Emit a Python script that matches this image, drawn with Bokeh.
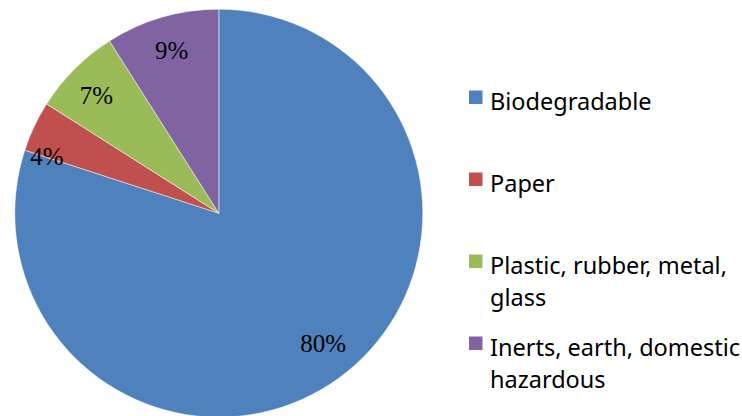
import math
from bokeh.plotting import figure
from bokeh.models import ColumnDataSource
from bokeh.core.properties import value
from bokeh.embed import file_html
from bokeh.resources import INLINE

# ---- data ----
categories = ["Biodegradable", "Paper", "Plastic, rubber, metal, glass", "Inerts, earth, domestic hazardous"]
shares = [80, 4, 7, 9]
pct_labels = ["80%", "4%", "7%", "9%"]
legend_lines = [["Biodegradable"], ["Paper"], ["Plastic, rubber, metal,", "glass"], ["Inerts, earth, domestic", "hazardous"]]
colors = ["#4F81BD", "#C0504D", "#9BBB59", "#8064A2"]

# ---- layout / style ----
W, H = 742, 416
CX, CY = 218.3, H - 212.7
R = 204
LABEL_R = 169
label_dx = [5, -19, -3, 0]
label_dy = [-6, 15, 2, 0]

p = figure(width=W, height=H, x_range=(0, W), y_range=(0, H),
           output_backend="svg", toolbar_location=None, min_border=0)
p.axis.visible = False
p.grid.visible = False
p.outline_line_color = None
p.background_fill_color = "white"
p.border_fill_color = "white"

total = float(sum(shares))
starts, ends, lx, ly = [], [], [], []
a = math.pi / 2
for s in shares:
    sweep = 2 * math.pi * s / total
    end = a - sweep
    starts.append(end)
    ends.append(a)
    mid = (a + end) / 2
    lx.append(CX + LABEL_R * math.cos(mid))
    ly.append(CY + LABEL_R * math.sin(mid))
    a = end

src = ColumnDataSource(dict(start=starts, end=ends, color=colors, cat=categories,
                            lx=lx, ly=ly, lab=pct_labels, dx=label_dx, dy=label_dy))
p.wedge(x=CX, y=CY, radius=R, start_angle="start", end_angle="end",
        fill_color="color", line_color="white", line_width=0.7, line_alpha=0.7, source=src)

p.text(x="lx", y="ly", text="lab", x_offset="dx", y_offset="dy", source=src,
       text_font=value("Liberation Serif"), text_font_size="25px",
       text_align="center", text_baseline="middle", text_color="black")

# legend
LEG_X_SQ = 468.5
SQ = 13.5
LEG_X_TXT = 489.5
first_baseline = H - 106.5
item_step = 82
line_step = 32
sq_x, sq_y, tx, ty, tt = [], [], [], [], []
for i, lines in enumerate(legend_lines):
    base = first_baseline - i * item_step
    sq_x.append(LEG_X_SQ + SQ / 2)
    sq_y.append(base + SQ / 2 + 3)
    for j, t in enumerate(lines):
        tx.append(LEG_X_TXT)
        ty.append(base - j * line_step + 6)
        tt.append(t)

p.rect(x=sq_x, y=sq_y, width=SQ, height=SQ, fill_color=colors, line_color=None)
p.text(x=tx, y=ty, text=tt, text_font=value("Noto Sans"), text_font_size="23.5px",
       text_align="left", text_baseline="alphabetic", text_color="black")

open("out.html", "w").write(file_html(p, INLINE))
